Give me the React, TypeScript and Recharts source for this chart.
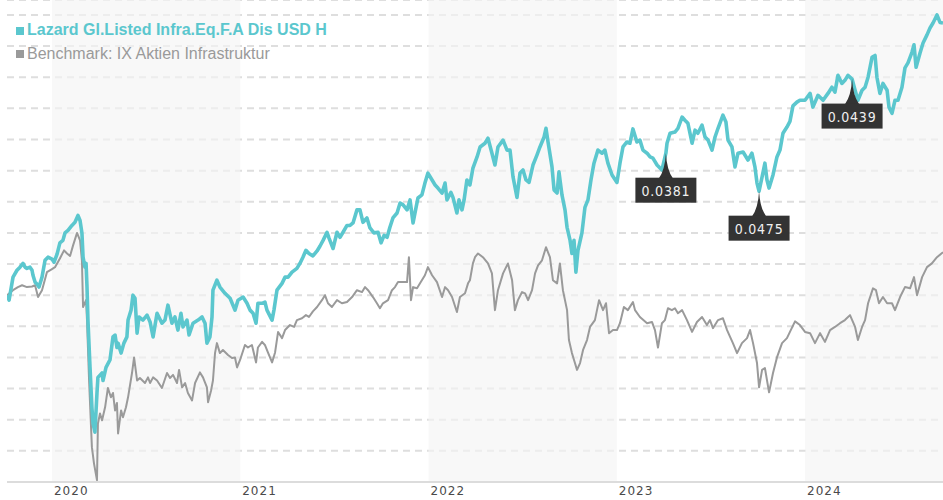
import React from 'react';
import { LineChart, Line, XAxis, YAxis, CartesianGrid, ReferenceArea, ReferenceDot } from 'recharts';

// Fund (teal) – time in decimal years, performance in %
const tealT = [
  2019.761, 2019.772, 2019.793, 2019.814, 2019.830, 2019.846, 2019.857, 2019.867, 2019.883, 2019.894,
  2019.899, 2019.910, 2019.920, 2019.931, 2019.947, 2019.963, 2019.979, 2020.000, 2020.011, 2020.027,
  2020.042, 2020.058, 2020.069, 2020.085, 2020.106, 2020.122, 2020.138, 2020.149, 2020.159, 2020.165,
  2020.175, 2020.181, 2020.186, 2020.191, 2020.202, 2020.212, 2020.218, 2020.228, 2020.239, 2020.244,
  2020.266, 2020.271, 2020.287, 2020.308, 2020.324, 2020.335, 2020.345, 2020.351, 2020.367, 2020.382,
  2020.398, 2020.404, 2020.420, 2020.430, 2020.441, 2020.452, 2020.462, 2020.483, 2020.505, 2020.521,
  2020.537, 2020.558, 2020.584, 2020.600, 2020.616, 2020.637, 2020.653, 2020.669, 2020.685, 2020.696,
  2020.717, 2020.728, 2020.749, 2020.776, 2020.797, 2020.813, 2020.823, 2020.839, 2020.850, 2020.855,
  2020.876, 2020.892, 2020.919, 2020.946, 2020.972, 2020.988, 2021.015, 2021.036, 2021.052, 2021.068,
  2021.084, 2021.094, 2021.116, 2021.131, 2021.142, 2021.169, 2021.179, 2021.195, 2021.222, 2021.238,
  2021.254, 2021.275, 2021.301, 2021.317, 2021.333, 2021.349, 2021.365, 2021.386, 2021.408, 2021.424,
  2021.440, 2021.461, 2021.471, 2021.493, 2021.514, 2021.530, 2021.546, 2021.567, 2021.583, 2021.599,
  2021.620, 2021.636, 2021.652, 2021.673, 2021.689, 2021.710, 2021.732, 2021.748, 2021.764, 2021.780,
  2021.795, 2021.811, 2021.833, 2021.849, 2021.865, 2021.886, 2021.902, 2021.918, 2021.934, 2021.944,
  2021.965, 2021.981, 2021.997, 2022.019, 2022.035, 2022.050, 2022.072, 2022.088, 2022.098, 2022.119,
  2022.130, 2022.151, 2022.162, 2022.178, 2022.189, 2022.204, 2022.220, 2022.236, 2022.258, 2022.274,
  2022.300, 2022.316, 2022.337, 2022.353, 2022.369, 2022.396, 2022.417, 2022.433, 2022.449, 2022.470,
  2022.486, 2022.502, 2022.518, 2022.534, 2022.555, 2022.576, 2022.592, 2022.614, 2022.624, 2022.635,
  2022.656, 2022.667, 2022.683, 2022.693, 2022.709, 2022.725, 2022.736, 2022.752, 2022.762, 2022.773,
  2022.783, 2022.794, 2022.815, 2022.831, 2022.847, 2022.863, 2022.879, 2022.900, 2022.922, 2022.937,
  2022.953, 2022.975, 2023.001, 2023.017, 2023.033, 2023.054, 2023.070, 2023.086, 2023.107, 2023.123,
  2023.139, 2023.161, 2023.177, 2023.192, 2023.214, 2023.240, 2023.261, 2023.267, 2023.283, 2023.309,
  2023.325, 2023.347, 2023.362, 2023.378, 2023.400, 2023.416, 2023.431, 2023.453, 2023.469, 2023.485,
  2023.506, 2023.522, 2023.538, 2023.564, 2023.580, 2023.591, 2023.612, 2023.628, 2023.644, 2023.671,
  2023.697, 2023.718, 2023.734, 2023.745, 2023.756, 2023.772, 2023.787, 2023.798, 2023.809, 2023.830,
  2023.851, 2023.867, 2023.883, 2023.904, 2023.920, 2023.936, 2023.957, 2023.973, 2024.000, 2024.027,
  2024.042, 2024.069, 2024.096, 2024.122, 2024.143, 2024.159, 2024.175, 2024.196, 2024.212, 2024.228,
  2024.250, 2024.266, 2024.281, 2024.303, 2024.319, 2024.335, 2024.356, 2024.372, 2024.382, 2024.398,
  2024.414, 2024.436, 2024.446, 2024.462, 2024.478, 2024.494, 2024.515, 2024.531, 2024.547, 2024.568,
  2024.579, 2024.590, 2024.611, 2024.627, 2024.648, 2024.664, 2024.680, 2024.701, 2024.717, 2024.733,
];
const tealV = [
  0, -0.8, 2.9, 4.0, 4.5, 5.1, 4.5, 4.3, 4.5, 4.0,
  3.2, 2.1, 1.8, 1.3, 2.9, 5.6, 6.1, 5.8, 5.3, 6.6,
  8.4, 8.8, 10.0, 10.4, 11.2, 11.7, 12.8, 12.0, 10.0, 6.1,
  4.5, 5.1, 1.3, -4.0, -11.6, -18.0, -20.6, -22.0, -15.7, -13.2,
  -12.5, -13.7, -11.6, -10.4, -6.7, -6.4, -8.4, -7.7, -9.3, -7.7,
  -6.7, -4.0, -2.4, 0, -0.5, -6.1, -3.5, -4.0, -3.2, -4.3,
  -6.7, -2.9, -4.5, -4.0, -1.6, -4.5, -3.5, -5.6, -2.9, -5.1,
  -4.0, -6.4, -4.5, -4.0, -3.5, -4.5, -7.7, -6.7, -3.5, 0.8,
  2.4, 1.3, 0.3, -0.5, -2.4, -0.8, -0.3, -1.3, -2.4, -2.9,
  -4.5, -1.3, -1.3, -1.1, -2.4, -4.0, -2.4, 0.8, 1.9, 2.9,
  2.9, 3.7, 4.3, 5.1, 6.1, 7.2, 6.7, 6.3, 7.1, 7.9,
  8.8, 10.1, 9.2, 7.5, 10.1, 9.3, 10.1, 11.2, 11.2, 11.6,
  13.7, 13.7, 11.7, 12.4, 10.8, 10.0, 10.1, 8.4, 9.6, 9.3,
  10.9, 12.4, 13.2, 14.8, 14.5, 13.7, 15.3, 11.6, 14.1, 15.6,
  16.1, 18.0, 19.6, 18.5, 17.7, 17.2, 16.4, 18.0, 15.3, 16.5,
  15.7, 13.2, 15.3, 13.7, 15.3, 18.5, 17.7, 20.4, 22.2, 23.8,
  24.4, 25.2, 22.8, 20.9, 23.8, 24.9, 23.3, 23.3, 19.0, 15.7,
  19.6, 20.1, 18.5, 18.1, 20.9, 22.5, 23.8, 25.4, 26.8, 24.6,
  20.6, 16.9, 16.4, 19.8, 16.1, 13.7, 10.9, 8.8, 6.7, 8.8,
  3.7, 7.2, 10.0, 14.1, 15.3, 18.5, 21.2, 23.3, 22.8, 23.3,
  21.2, 19.3, 18.1, 21.2, 23.8, 24.6, 24.4, 26.7, 24.6, 24.9,
  23.3, 22.8, 22.2, 22.0, 20.9, 20.1, 22.8, 24.4, 26.0, 26.2,
  26.8, 28.6, 28.1, 27.6, 24.4, 26.5, 26.0, 27.3, 25.4, 24.9,
  23.3, 25.4, 26.8, 28.9, 27.8, 24.9, 23.8, 20.6, 22.8, 23.0,
  21.7, 22.8, 20.6, 18.0, 16.7, 19.0, 21.2, 18.5, 17.2, 19.3,
  22.2, 23.3, 26.0, 27.0, 27.9, 30.4, 31.0, 31.3, 31.3, 32.4,
  30.2, 32.1, 31.3, 32.4, 33.4, 32.6, 35.3, 34.0, 34.5, 35.3,
  34.7, 32.9, 31.3, 32.9, 33.4, 35.0, 38.2, 38.5, 35.0, 32.4,
  34.0, 32.9, 30.2, 29.2, 31.3, 31.3, 33.4, 36.5, 37.3, 39.0,
  40.2, 36.6, 38.9, 40.5, 41.8, 42.9, 43.7, 45.0, 43.8, 43.7,
];

// Benchmark (gray)
const grayT = [
  2019.761, 2019.793, 2019.819, 2019.841, 2019.867, 2019.894, 2019.910, 2019.926, 2019.947, 2019.973,
  2020.000, 2020.016, 2020.042, 2020.064, 2020.080, 2020.096, 2020.112, 2020.133, 2020.149, 2020.159,
  2020.165, 2020.181, 2020.186, 2020.197, 2020.212, 2020.223, 2020.239, 2020.244, 2020.255, 2020.266,
  2020.282, 2020.297, 2020.313, 2020.324, 2020.335, 2020.345, 2020.351, 2020.367, 2020.377, 2020.393,
  2020.404, 2020.425, 2020.436, 2020.452, 2020.467, 2020.494, 2020.510, 2020.521, 2020.537, 2020.558,
  2020.584, 2020.611, 2020.627, 2020.643, 2020.664, 2020.675, 2020.691, 2020.707, 2020.722, 2020.744,
  2020.760, 2020.786, 2020.802, 2020.823, 2020.829, 2020.845, 2020.855, 2020.866, 2020.876, 2020.892,
  2020.908, 2020.935, 2020.956, 2020.972, 2020.983, 2020.999, 2021.025, 2021.041, 2021.062, 2021.084,
  2021.094, 2021.116, 2021.131, 2021.147, 2021.169, 2021.185, 2021.201, 2021.222, 2021.238, 2021.264,
  2021.286, 2021.301, 2021.328, 2021.349, 2021.365, 2021.386, 2021.408, 2021.434, 2021.450, 2021.466,
  2021.487, 2021.514, 2021.540, 2021.567, 2021.594, 2021.620, 2021.647, 2021.663, 2021.679, 2021.705,
  2021.726, 2021.742, 2021.758, 2021.785, 2021.806, 2021.822, 2021.838, 2021.865, 2021.886, 2021.896,
  2021.907, 2021.918, 2021.939, 2021.955, 2021.981, 2021.997, 2022.019, 2022.045, 2022.072, 2022.088,
  2022.104, 2022.125, 2022.151, 2022.167, 2022.194, 2022.210, 2022.220, 2022.236, 2022.247, 2022.263,
  2022.289, 2022.316, 2022.337, 2022.353, 2022.369, 2022.396, 2022.422, 2022.444, 2022.459, 2022.475,
  2022.497, 2022.513, 2022.529, 2022.550, 2022.566, 2022.582, 2022.603, 2022.624, 2022.645, 2022.661,
  2022.683, 2022.698, 2022.714, 2022.736, 2022.746, 2022.762, 2022.773, 2022.789, 2022.805, 2022.821,
  2022.842, 2022.858, 2022.884, 2022.906, 2022.927, 2022.943, 2022.959, 2022.980, 2023.001, 2023.017,
  2023.038, 2023.059, 2023.086, 2023.097, 2023.123, 2023.161, 2023.187, 2023.203, 2023.219, 2023.240,
  2023.256, 2023.272, 2023.293, 2023.309, 2023.325, 2023.347, 2023.373, 2023.400, 2023.426, 2023.453,
  2023.479, 2023.495, 2023.511, 2023.538, 2023.564, 2023.586, 2023.602, 2023.617, 2023.639, 2023.665,
  2023.692, 2023.708, 2023.724, 2023.745, 2023.756, 2023.772, 2023.787, 2023.809, 2023.830, 2023.851,
  2023.878, 2023.904, 2023.920, 2023.947, 2023.973, 2024.000, 2024.027, 2024.053, 2024.080, 2024.106,
  2024.133, 2024.159, 2024.186, 2024.212, 2024.239, 2024.266, 2024.281, 2024.303, 2024.319, 2024.335,
  2024.361, 2024.377, 2024.393, 2024.414, 2024.436, 2024.462, 2024.478, 2024.505, 2024.531, 2024.558,
  2024.579, 2024.595, 2024.622, 2024.648, 2024.674, 2024.701, 2024.733,
];
const grayV = [
  0, 0.8, 1.3, 1.6, 1.3, 1.4, 1.6, -0.3, 0.8, 3.7,
  4.2, 4.5, 5.9, 7.2, 6.7, 6.3, 8.0, 10.0, 8.8, 5.6,
  -1.9, -0.8, -4.0, -13.7, -24.4, -27.0, -29.7, -20.6, -19.0, -20.1,
  -18.0, -14.9, -16.4, -15.7, -18.5, -17.3, -22.2, -18.5, -19.6, -18.0,
  -16.4, -12.5, -10.0, -13.7, -13.3, -14.1, -13.2, -14.1, -13.2, -13.7,
  -14.9, -12.5, -13.3, -12.8, -14.1, -12.0, -14.8, -14.1, -15.7, -16.9,
  -14.1, -12.4, -13.2, -14.8, -17.2, -15.3, -13.7, -9.3, -7.7, -9.3,
  -8.8, -9.6, -10.1, -10.0, -11.6, -10.4, -8.0, -8.4, -8.0, -10.8,
  -8.4, -7.5, -8.0, -9.2, -10.8, -9.2, -5.9, -6.9, -5.6, -4.8,
  -5.1, -4.0, -3.7, -3.2, -3.5, -2.6, -1.9, -0.8, 0, -1.3,
  -1.9, -0.8, -1.3, -1.1, -0.3, 0.8, 0.5, 1.3, 0.8, -0.3,
  -1.3, -2.1, -1.3, -0.8, 0.8, 1.3, 2.1, 2.1, 2.1, 6.1,
  -0.8, 1.3, 1.1, 1.9, 3.2, 4.5, 3.2, 2.1, -0.3, 1.3,
  0.8, -0.3, -2.7, -0.3, 0.3, 1.9, 2.4, 5.1, 6.1, 6.7,
  6.1, 5.1, 3.5, -2.4, 0.8, 3.5, 5.1, 2.4, -2.4, -0.8,
  0.5, 0.3, -0.8, 0.8, 3.5, 4.8, 5.6, 7.7, 6.1, 2.4,
  1.9, 5.1, 0.8, -2.4, -7.2, -9.3, -10.4, -12.0, -10.9, -8.8,
  -7.2, -5.1, -4.0, -0.8, -2.4, -1.3, -6.1, -5.6, -5.6, -4.5,
  -1.9, -2.4, -1.1, -2.4, -3.5, -4.5, -4.3, -5.6, -8.4, -4.5,
  -4.0, -2.1, -2.4, -2.1, -2.9, -2.4, -4.0, -5.9, -4.3, -3.5,
  -4.8, -4.0, -5.3, -4.0, -3.7, -5.6, -6.7, -7.7, -9.3, -7.7,
  -6.9, -5.6, -7.7, -10.9, -14.8, -12.0, -11.7, -15.6, -12.5, -10.0,
  -7.7, -6.9, -5.9, -4.2, -4.8, -5.9, -6.1, -7.7, -6.1, -7.5,
  -5.6, -5.1, -4.5, -4.0, -3.2, -5.1, -7.2, -5.1, -4.0, -1.3,
  1.1, 0.8, -1.3, -0.3, -1.3, -1.3, -2.4, -0.3, 1.3, 1.1,
  2.9, 0, 2.9, 4.5, 5.1, 6.1, 6.9,
];

// Distribution markers on the fund line
const divT = [2023.261, 2023.756, 2024.25];
const divV = [22.8, 16.7, 34.7];
const divLabels = ['0.0381', '0.0475', '0.0439'];

const yearTicks = [2020, 2021, 2022, 2023, 2024];
const bandStarts = [2020, 2022, 2024];
const bandEnds = [2021, 2023, 2024.733];
const gridTicks = [-25, -20, -15, -10, -5, 0, 5, 10, 15, 20, 25, 30, 35, 40, 45];

const seriesNames = ['Lazard Gl.Listed Infra.Eq.F.A Dis USD H', 'Benchmark: IX Aktien Infrastruktur'];
const TEAL = '#5bc7ce';
const GRAY = '#9a9a9a';

const tealData = tealT.map((t, i) => ({ t, v: tealV[i] }));
const grayData = grayT.map((t, i) => ({ t, v: grayV[i] }));

const YearTick = (props: any) => {
  const { x, y, payload } = props;
  return (
    <text x={x + 2} y={y + 13} fill="#4a4a4a" fontSize={12} letterSpacing={1} fontFamily="'DejaVu Sans', sans-serif" textAnchor="start">
      {payload.value}
    </text>
  );
};

const Pin = ({ cx, cy, label }: { cx: number; cy: number; label: string }) => (
  <g>
    <path
      d={`M${cx},${cy} Q${cx + 1},${cy + 17} ${cx + 7},${cy + 25} L${cx - 7},${cy + 25} Q${cx - 1},${cy + 17} ${cx},${cy} Z`}
      fill="#333"
    />
    <rect x={cx - 30.5} y={cy + 24.5} width={61} height={25} fill="#333" />
    <text x={cx} y={cy + 42.5} fill="#f0f0f0" fontSize={14} letterSpacing={0.8} textAnchor="middle" fontFamily="'DejaVu Sans Condensed', 'DejaVu Sans', sans-serif">
      {label}
    </text>
  </g>
);

export default function App() {
  return (
    <div style={{ position: 'relative', width: 943, height: 500, background: '#fff' }}>
      <style>{'body{margin:0}'}</style>
      <LineChart width={943} height={500} margin={{ top: 0, right: 0, left: 7, bottom: 0 }}>
        <CartesianGrid vertical={false} stroke="#dedede" strokeWidth={2} strokeDasharray="7 5" />
        {bandStarts.map((s, i) => (
          <ReferenceArea key={s} x1={s} x2={bandEnds[i]} fill="#f4f4f4" fillOpacity={0.65} stroke="none" />
        ))}
        <XAxis
          dataKey="t"
          type="number"
          domain={[2019.761, 2024.733]}
          allowDataOverflow
          ticks={yearTicks}
          tick={<YearTick />}
          tickLine={false}
          tickSize={0}
          tickMargin={0}
          height={18}
          axisLine={{ stroke: '#dcdcdc', strokeWidth: 2 }}
        />
        <YAxis hide type="number" domain={[-30, 47.4]} ticks={gridTicks} allowDataOverflow />
        <Line data={grayData} dataKey="v" stroke={GRAY} strokeWidth={2} dot={false} isAnimationActive={false} strokeLinejoin="round" />
        <Line data={tealData} dataKey="v" stroke={TEAL} strokeWidth={3.6} dot={false} isAnimationActive={false} strokeLinejoin="round" />
        {divT.map((t, i) => (
          <ReferenceDot
            key={t}
            x={t}
            y={divV[i]}
            r={0}
            ifOverflow="visible"
            shape={(p: any) => <Pin cx={p.cx} cy={p.cy} label={divLabels[i]} />}
          />
        ))}
      </LineChart>
      <div style={{ position: 'absolute', left: 0, top: 0, fontFamily: "'Liberation Sans', Arial, sans-serif", fontSize: 16, pointerEvents: 'none' }}>
        <div style={{ position: 'absolute', left: 16, top: 26.5, width: 8, height: 8, background: TEAL }} />
        <div style={{ position: 'absolute', left: 27, top: 18.5, whiteSpace: 'nowrap', color: TEAL, fontWeight: 'bold', lineHeight: '22px' }}>{seriesNames[0]}</div>
        <div style={{ position: 'absolute', left: 16, top: 50, width: 8, height: 8, background: GRAY }} />
        <div style={{ position: 'absolute', left: 27, top: 42.5, whiteSpace: 'nowrap', color: GRAY, lineHeight: '22px' }}>{seriesNames[1]}</div>
      </div>
    </div>
  );
}
